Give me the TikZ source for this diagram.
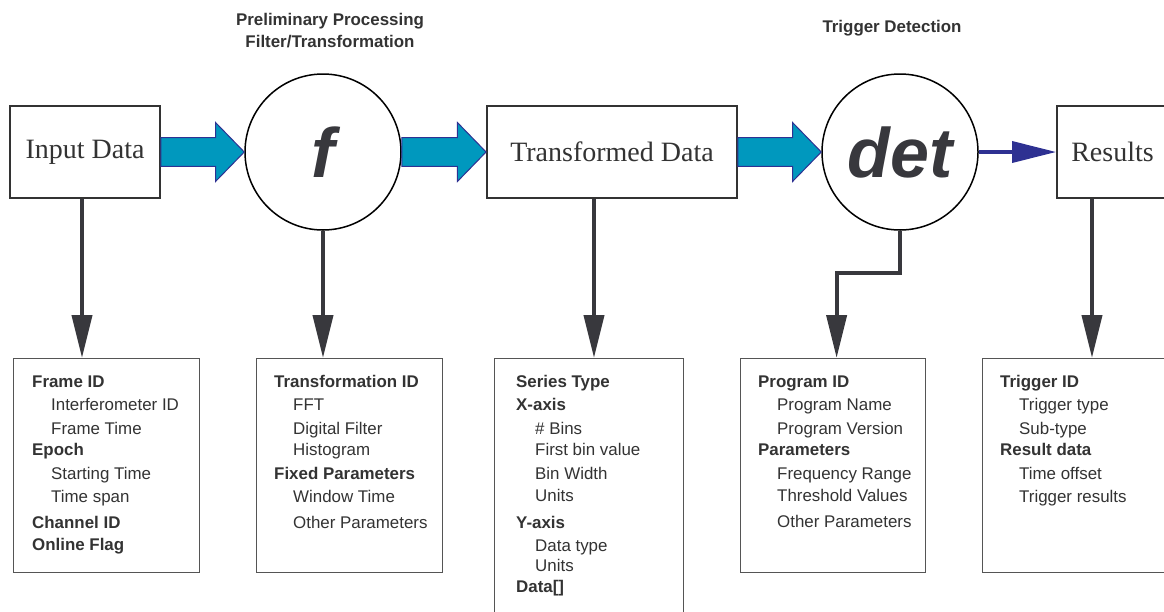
\documentclass[tikz,border=0pt]{standalone}
\usepackage{fontspec}
\setmainfont{Liberation Sans}
\newfontfamily\serifface{Liberation Serif}
\usetikzlibrary{arrows.meta,calc}
\definecolor{teal1}{HTML}{0098BE}
\definecolor{navy1}{HTML}{2E3192}
\definecolor{ink}{HTML}{333333}
\definecolor{darkline}{HTML}{38383D}
\definecolor{boxgray}{HTML}{555555}
\newcommand\blockarr[2]{%
  \path let \p1=(#1.east), \p2=(#2.west) in
    [blockarrow] (\x1,\y1+14.3pt) -- (\x2-28.7pt,\y1+14.3pt) -- (\x2-28.7pt,\y1+29.5pt)
    -- (\x2,\y1) -- (\x2-28.7pt,\y1-29.5pt) -- (\x2-28.7pt,\y1-14.3pt) -- (\x1,\y1-14.3pt) -- cycle;}
\begin{document}
\begin{tikzpicture}[x=1pt,y=-1pt,
 topbox/.style={draw=ink, line width=1.8pt, rectangle, minimum height=92pt, inner sep=0pt, text=ink, font=\serifface\fontsize{28}{30}\selectfont},
 procnode/.style={draw=black, line width=1.5pt, circle, minimum size=156pt, inner sep=0pt, text=darkline, font=\fontsize{70}{70}\selectfont\bfseries\itshape},
 infobox/.style={draw=boxgray, line width=1.2pt, rectangle, anchor=north west, inner sep=0pt},
 infotext/.style={anchor=north west, inner sep=0pt, align=left, text=ink, font=\fontsize{16.9}{23}\selectfont},
 titletext/.style={inner sep=0pt, align=center, text=ink, font=\fontsize{16.9}{22}\selectfont\bfseries},
 blockarrow/.style={fill=teal1, draw=navy1, line width=1pt, line join=miter},
 downarrow/.style={draw=darkline, line width=4pt, line join=miter, -{Triangle[length=43pt,width=20pt]}},
 thinarrow/.style={draw=navy1, line width=3.5pt, -{Triangle[length=44pt,width=21pt]}}
]
\useasboundingbox (0,0) rectangle (1164,611);
\clip (0,0) rectangle (1164,611);
\fill[white] (0,0) rectangle (1164,611);

% titles
\node[titletext, anchor=north] (t1) at (330,12.8) {Preliminary Processing\\Filter/Transformation};
\node[titletext, anchor=base] (t2) at (892,32) {Trigger Detection};

% top row
\node[topbox, minimum width=150pt] (in) at (85,152) {Input Data};
\node[procnode] (f) at (323,152) {f};
\node[topbox, minimum width=250pt] (td) at (612,152) {Transformed Data};
\node[procnode] (det) at (900,152) {det};
\node[topbox, minimum width=111pt] (res) at (1112.5,152) {Results};

\blockarr{in}{f}
\blockarr{f}{td}
\blockarr{td}{det}
\draw[thinarrow] (det.east) -- (res.west);

% bottom boxes
\node[infobox, minimum width=186pt, minimum height=214pt] (b1) at (13,358) {};
\node[infobox, minimum width=186pt, minimum height=214pt] (b2) at (256,358) {};
\node[infobox, minimum width=189pt, minimum height=280pt] (b3) at (494,358) {};
\node[infobox, minimum width=185pt, minimum height=214pt] (b4) at (740,358) {};
\node[infobox, minimum width=200pt, minimum height=214pt] (b5) at (982,358) {};

\node[infotext] (b1t) at (32,375.3) {\textbf{Frame ID}\\
\hspace*{19pt}Interferometer ID\\[1pt]
\hspace*{19pt}Frame Time\\[-2pt]
\textbf{Epoch}\\[1pt]
\hspace*{19pt}Starting Time\\
\hspace*{19pt}Time span\\[3pt]
\textbf{Channel ID}\\[-1pt]
\textbf{Online Flag}};

\node[infotext] (b2t) at (274,375.3) {\textbf{Transformation ID}\\
\hspace*{19pt}FFT\\[1pt]
\hspace*{19pt}Digital Filter\\[-2pt]
\hspace*{19pt}Histogram\\[1pt]
\textbf{Fixed Parameters}\\
\hspace*{19pt}Window Time\\[3pt]
\hspace*{19pt}Other Parameters};

\node[infotext] (b3t) at (516,375.3) {\textbf{Series Type}\\
\textbf{X-axis}\\[1pt]
\hspace*{19pt}\# Bins\\[-2pt]
\hspace*{19pt}First bin value\\[1pt]
\hspace*{19pt}Bin Width\\[-1pt]
\hspace*{19pt}Units\\[4pt]
\textbf{Y-axis}\\
\hspace*{19pt}Data type\\[-3pt]
\hspace*{19pt}Units\\[-2pt]
\textbf{Data[]}};

\node[infotext] (b4t) at (758,375.3) {\textbf{Program ID}\\
\hspace*{19pt}Program Name\\[1pt]
\hspace*{19pt}Program Version\\[-2pt]
\textbf{Parameters}\\[1pt]
\hspace*{19pt}Frequency Range\\[-1pt]
\hspace*{19pt}Threshold Values\\[3pt]
\hspace*{19pt}Other Parameters};

\node[infotext] (b5t) at (1000,375.3) {\textbf{Trigger ID}\\
\hspace*{19pt}Trigger type\\[1pt]
\hspace*{19pt}Sub-type\\[-2pt]
\textbf{Result data}\\[1pt]
\hspace*{19pt}Time offset\\
\hspace*{19pt}Trigger results};

% down connectors
\draw[downarrow] ([xshift=-3pt]in.south) -- ([xshift=-3pt]in.south |- b1.north);
\draw[downarrow] (f.south) -- (f.south |- b2.north);
\draw[downarrow] ([xshift=-18pt]td.south) -- ([xshift=-18pt]td.south |- b3.north);
\draw[downarrow] (det.south) -- ++(0,42) -| ([xshift=3.5pt]b4.north);
\draw[downarrow] ([xshift=-20.5pt]res.south) -- ([xshift=-20.5pt]res.south |- b5.north);
\end{tikzpicture}
\end{document}
